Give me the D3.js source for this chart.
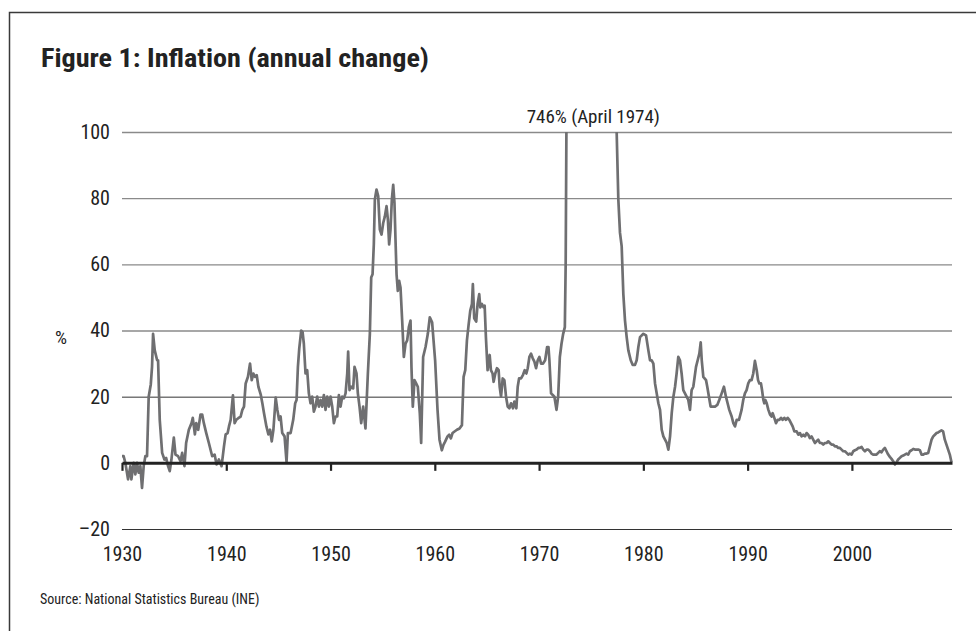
<!DOCTYPE html>
<html>
<head>
<meta charset="utf-8">
<script src="https://cdn.jsdelivr.net/npm/d3@7"></script>
<style>
  html, body { margin: 0; padding: 0; background: #fff; }
  svg text { font-family: "Liberation Sans Narrow", "Roboto Condensed", "DejaVu Sans Condensed", "Arial Narrow", sans-serif; fill: #222; }
</style>
</head>
<body>
<svg id="chart" width="976" height="631"></svg>
<script>
'use strict';

// inflation, annual change in % as [decimal year, value]
const d1930s = [
    [1930.00, 2], [1930.16, 2], [1930.32, 0], [1930.58, -5], [1930.80, -1], [1930.90, -5],
    [1931.12, 0], [1931.28, -3.5], [1931.44, 0], [1931.60, -3], [1931.76, -1], [1931.92, -7.6],
    [1932.08, -1], [1932.24, 2], [1932.40, 2], [1932.56, 20], [1932.76, 23.7], [1932.88, 29],
    [1932.98, 39], [1933.14, 34], [1933.37, 31], [1933.46, 31], [1933.62, 13], [1933.85, 3],
    [1934.07, 1], [1934.23, 1.5], [1934.42, -1], [1934.58, -2.5], [1934.74, 1], [1934.97, 7.6],
    [1935.13, 2.5], [1935.38, 2], [1935.61, 0.5], [1935.77, 3], [1935.99, -1], [1936.15, 6],
    [1936.41, 10], [1936.67, 12], [1936.79, 13.6], [1936.99, 8.6], [1937.12, 12], [1937.31, 10],
    [1937.53, 14.6], [1937.69, 14.6], [1937.85, 12], [1938.08, 9], [1938.33, 6], [1938.65, 2],
    [1938.88, 2.5], [1939.07, -0.5], [1939.29, 1], [1939.55, -1], [1939.78, 5], [1939.94, 8.6]
];

const d1940s = [
    [1940.13, 9], [1940.26, 11], [1940.42, 13], [1940.64, 20.4], [1940.80, 12], [1940.96, 13],
    [1941.15, 13.5], [1941.38, 14], [1941.54, 16], [1941.70, 17], [1941.86, 24], [1942.08, 26],
    [1942.28, 30], [1942.44, 25], [1942.60, 27], [1942.76, 26], [1942.92, 26.5], [1943.08, 23],
    [1943.30, 20.7], [1943.46, 18], [1943.62, 15], [1943.85, 11], [1944.04, 8.6], [1944.20, 10],
    [1944.36, 6.5], [1944.52, 10], [1944.74, 19.7], [1944.90, 16], [1945.06, 13], [1945.21, 14],
    [1945.37, 9], [1945.59, 8], [1945.78, 0.3], [1945.91, 9], [1946.17, 9], [1946.42, 13],
    [1946.61, 18], [1946.74, 19], [1946.87, 29], [1947.00, 34.6], [1947.19, 40], [1947.32, 39.5],
    [1947.44, 36], [1947.60, 27], [1947.76, 28], [1947.92, 21], [1948.08, 18], [1948.24, 20],
    [1948.40, 15.5], [1948.56, 17], [1948.72, 20], [1948.88, 17], [1949.04, 19], [1949.20, 17],
    [1949.36, 20.5], [1949.52, 16], [1949.68, 20], [1949.84, 17]
];

const d1950s = [
    [1950.00, 20], [1950.16, 17], [1950.32, 12], [1950.48, 14], [1950.64, 14], [1950.80, 20.5],
    [1950.96, 17], [1951.12, 20], [1951.28, 19.5], [1951.44, 21], [1951.60, 27], [1951.69, 33.6],
    [1951.82, 22], [1951.98, 23], [1952.17, 22.5], [1952.30, 29], [1952.49, 27], [1952.62, 21],
    [1952.78, 17], [1952.94, 12], [1953.13, 17], [1953.35, 10.4], [1953.58, 27], [1953.77, 39],
    [1953.90, 56], [1954.03, 57], [1954.15, 66], [1954.25, 79.6], [1954.41, 82.6], [1954.57, 80.6],
    [1954.73, 70.5], [1954.89, 69], [1955.05, 72.5], [1955.21, 74.5], [1955.37, 77.6], [1955.50, 73.5],
    [1955.62, 66], [1955.75, 70.5], [1955.88, 79.6], [1956.01, 84], [1956.13, 78.6], [1956.23, 67.5],
    [1956.33, 57], [1956.45, 52], [1956.58, 55], [1956.71, 53], [1956.87, 43], [1957.03, 32],
    [1957.19, 36], [1957.35, 37], [1957.51, 41], [1957.67, 43], [1957.76, 29], [1957.89, 17],
    [1958.05, 25], [1958.21, 24], [1958.37, 23], [1958.56, 15], [1958.69, 6], [1958.88, 32],
    [1959.11, 35], [1959.33, 39], [1959.52, 44], [1959.74, 42.5]
];

const d1960s = [
    [1960.03, 31], [1960.26, 16], [1960.45, 7], [1960.67, 3.8], [1960.83, 5.4], [1960.99, 6.4],
    [1961.22, 8], [1961.38, 8.5], [1961.54, 7.4], [1961.70, 9], [1961.86, 9.4], [1962.12, 10],
    [1962.37, 10.4], [1962.60, 11.4], [1962.76, 26], [1962.92, 28], [1963.08, 37], [1963.24, 41.7],
    [1963.40, 46], [1963.56, 48], [1963.65, 54], [1963.78, 43.7], [1963.97, 42.7], [1964.10, 48],
    [1964.26, 51], [1964.36, 47], [1964.52, 48], [1964.68, 47], [1964.78, 47.5], [1964.90, 38],
    [1965.06, 28], [1965.26, 32.6], [1965.38, 28], [1965.54, 27], [1965.64, 24.5], [1965.80, 27],
    [1965.96, 28.6], [1966.12, 28], [1966.22, 23], [1966.35, 20], [1966.51, 25.5], [1966.67, 25],
    [1966.83, 20], [1966.99, 17], [1967.15, 16.5], [1967.31, 18], [1967.50, 16.5], [1967.63, 18.5],
    [1967.82, 16.5], [1967.95, 23], [1968.08, 25.5], [1968.27, 25.5], [1968.46, 26.6], [1968.62, 28],
    [1968.78, 27], [1968.91, 28.6], [1969.07, 32], [1969.23, 33], [1969.39, 31.6], [1969.55, 30.6],
    [1969.71, 28.6], [1969.87, 31]
];

const d1970s = [
    [1970.03, 32], [1970.19, 30], [1970.38, 30], [1970.58, 31], [1970.77, 35], [1970.90, 35],
    [1970.99, 31], [1971.15, 21], [1971.31, 20.5], [1971.47, 20], [1971.67, 16], [1971.83, 20],
    [1971.99, 32], [1972.15, 36], [1972.31, 39], [1972.47, 41], [1972.55, 60], [1972.62, 100],
    [1973.50, 400], [1974.30, 746], [1976.00, 350], [1977.44, 100], [1977.60, 79.6], [1977.76, 69.5],
    [1977.92, 65.5], [1978.08, 51], [1978.24, 43], [1978.40, 38], [1978.56, 34], [1978.79, 31],
    [1978.98, 29.6], [1979.20, 29.6], [1979.36, 31], [1979.52, 35], [1979.68, 38]
];

const d1980s = [
    [1980.00, 39], [1980.26, 38.5], [1980.48, 34], [1980.64, 31], [1980.80, 31], [1980.96, 30],
    [1981.12, 24], [1981.28, 21], [1981.44, 18], [1981.60, 16], [1981.76, 10], [1981.92, 8],
    [1982.08, 7], [1982.24, 6], [1982.40, 4], [1982.56, 8], [1982.72, 15], [1982.88, 20],
    [1983.04, 23], [1983.19, 27], [1983.35, 32], [1983.51, 31], [1983.67, 27], [1983.83, 22],
    [1983.99, 21], [1984.15, 20], [1984.31, 19], [1984.47, 16], [1984.63, 22], [1984.79, 23],
    [1985.05, 29], [1985.21, 31], [1985.37, 33], [1985.50, 36.4], [1985.60, 31], [1985.75, 26],
    [1986.01, 25], [1986.13, 23], [1986.29, 20], [1986.45, 17], [1986.65, 17], [1986.87, 17],
    [1987.09, 17.5], [1987.28, 19], [1987.51, 21], [1987.73, 23], [1987.92, 20], [1988.08, 18],
    [1988.24, 16], [1988.47, 14], [1988.63, 12], [1988.79, 11], [1988.95, 13], [1989.17, 13],
    [1989.42, 16], [1989.58, 19], [1989.74, 21], [1989.90, 22]
];

const d1990s = [
    [1990.06, 24], [1990.22, 25], [1990.38, 25], [1990.54, 27], [1990.70, 30.8], [1990.87, 28],
    [1991.00, 25], [1991.12, 24], [1991.28, 24], [1991.38, 22], [1991.51, 19], [1991.60, 18],
    [1991.70, 19], [1991.83, 18], [1991.99, 16], [1992.15, 14.6], [1992.31, 14], [1992.40, 15],
    [1992.56, 13.6], [1992.72, 12], [1992.88, 13], [1993.04, 13], [1993.20, 13.6], [1993.36, 13],
    [1993.52, 13.6], [1993.68, 13], [1993.84, 13.6], [1994.00, 13], [1994.16, 12], [1994.32, 11],
    [1994.48, 9.5], [1994.70, 9.5], [1994.86, 8.5], [1995.02, 9], [1995.18, 8], [1995.34, 8.5],
    [1995.50, 8], [1995.65, 9], [1995.81, 8.5], [1995.97, 7.5], [1996.13, 8], [1996.29, 7],
    [1996.45, 6], [1996.61, 6.5], [1996.77, 7], [1996.93, 6], [1997.09, 6], [1997.25, 5.5],
    [1997.41, 6], [1997.57, 6], [1997.73, 6.5], [1997.89, 6], [1998.05, 5.5], [1998.21, 5.5],
    [1998.37, 5], [1998.53, 5], [1998.69, 4.5], [1998.85, 4.5], [1999.01, 4], [1999.17, 3.5],
    [1999.33, 3.5], [1999.49, 3], [1999.65, 2.5], [1999.81, 2.8]
];

const d2000s = [
    [1999.97, 2.5], [2000.13, 3.5], [2000.29, 3.8], [2000.45, 4], [2000.61, 4.5], [2000.77, 4.5],
    [2000.93, 4.8], [2001.09, 4], [2001.25, 3.5], [2001.41, 4], [2001.57, 4], [2001.73, 3.5],
    [2001.88, 2.8], [2002.04, 2.5], [2002.20, 2.5], [2002.36, 2.5], [2002.52, 3], [2002.68, 3.5],
    [2002.84, 3.2], [2003.00, 4], [2003.16, 4.5], [2003.32, 3.5], [2003.48, 2.5], [2003.64, 1.8],
    [2003.80, 1.2], [2003.96, 0.5], [2004.12, -0.5], [2004.28, 0.2], [2004.44, 1], [2004.60, 1.5],
    [2004.76, 2], [2004.92, 2.2], [2005.08, 2.5], [2005.24, 2.8], [2005.40, 2.5], [2005.56, 3.5],
    [2005.72, 3.8], [2005.88, 4.2], [2006.04, 4], [2006.20, 4], [2006.36, 4], [2006.52, 3.8],
    [2006.68, 2.5], [2006.84, 2.5], [2007.00, 2.8], [2007.16, 2.8], [2007.32, 3], [2007.48, 5],
    [2007.64, 7], [2007.80, 8], [2007.96, 8.5], [2008.12, 9], [2008.27, 9.2], [2008.43, 9.5],
    [2008.59, 9.8], [2008.75, 9.5], [2008.91, 7], [2009.07, 5.5], [2009.23, 4], [2009.39, 2.5],
    [2009.55, 0.2]
];

const yTicks = [-20, 0, 20, 40, 60, 80, 100];
const xTicks = [1930, 1940, 1950, 1960, 1970, 1980, 1990, 2000];
const xDomain = [1930, 2009.6];
const yDomain = [-20, 100];

const titleText = 'Figure 1: Inflation (annual change)';
const peakText = '746% (April 1974)';
const peakLabelYear = 1975.2;
const unitText = '%';
const sourceText = 'Source: National Statistics Bureau (INE)';

const series = [].concat(d1930s, d1940s, d1950s, d1960s, d1970s, d1980s, d1990s, d2000s);

let svg = d3.select('#chart');

// frame round the figure (right and bottom edges run off the page)
svg.append('rect')
    .attr('x', 9.5).attr('y', 12.5)
    .attr('width', 1000).attr('height', 700)
    .attr('fill', 'none')
    .attr('stroke', '#3a3a3a')
    .attr('stroke-width', 1.5);

svg.append('text')
    .attr('x', 41).attr('y', 67)
    .attr('textLength', 388)
    .attr('lengthAdjust', 'spacingAndGlyphs')
    .style('font-size', '26px')
    .style('font-weight', 'bold')
    .text(titleText);

let x = d3.scaleLinear().domain(xDomain).range([122, 952]);
let y = d3.scaleLinear().domain(yDomain).range([529, 132]);

// gridlines and y labels
let gY = svg.append('g')
    .attr('transform', 'translate(' + x(xDomain[0]) + ',0)')
    .call(d3.axisLeft(y)
        .tickValues(yTicks)
        .tickSize(-(x(xDomain[1]) - x(xDomain[0])))
        .tickPadding(12)
        .tickFormat(function(d) { return d < 0 ? '\u2013' + Math.abs(d) : d; }));
gY.select('.domain').remove();
gY.selectAll('.tick line')
    .attr('stroke', function(d) { return (d === 20 || d === -20) ? '#333' : '#8a8a8a'; })
    .attr('stroke-width', function(d) { return (d === 20 || d === -20) ? 1 : 1.4; })
    .style('display', function(d) { return d === 0 ? 'none' : null; });
gY.selectAll('.tick text')
    .style('font-size', '20px')
    .attr('fill', '#222');

svg.append('text')
    .attr('x', 55).attr('y', y(38))
    .attr('dy', '0.35em')
    .style('font-size', '19px')
    .text(unitText);

// the series, cut at the top of the axis
svg.append('clipPath').attr('id', 'plot-clip')
    .append('rect')
    .attr('x', x(xDomain[0]) - 2).attr('y', y(100))
    .attr('width', x(xDomain[1]) - x(xDomain[0]) + 4)
    .attr('height', y(-20) - y(100));

let line = d3.line()
    .x(function(d) { return x(d[0]); })
    .y(function(d) { return y(d[1]); });

svg.append('path')
    .datum(series)
    .attr('clip-path', 'url(#plot-clip)')
    .attr('d', line)
    .attr('fill', 'none')
    .attr('stroke', '#6f6f71')
    .attr('stroke-width', 2.7)
    .attr('stroke-linejoin', 'round');

// zero line with decade ticks
let gZero = svg.append('g')
    .attr('transform', 'translate(0,' + y(0) + ')')
    .call(d3.axisBottom(x).tickValues(xTicks).tickSize(8).tickSizeOuter(0).tickFormat(''));
gZero.select('.domain').attr('stroke', '#222').attr('stroke-width', 3);
gZero.selectAll('.tick line').attr('stroke', '#222').attr('stroke-width', 2.2);

// year labels below the chart
let gX = svg.append('g')
    .attr('transform', 'translate(0,' + y(-20) + ')')
    .call(d3.axisBottom(x).tickValues(xTicks).tickSize(0).tickPadding(18).tickFormat(d3.format('d')));
gX.select('.domain').remove();
gX.selectAll('.tick text').style('font-size', '20px').attr('fill', '#222');

svg.append('text')
    .attr('x', x(peakLabelYear)).attr('y', y(100) - 9)
    .attr('text-anchor', 'middle')
    .style('font-size', '19px')
    .text(peakText);

svg.append('text')
    .attr('x', 40).attr('y', 604)
    .style('font-size', '14px')
    .text(sourceText);
</script>
</body>
</html>
